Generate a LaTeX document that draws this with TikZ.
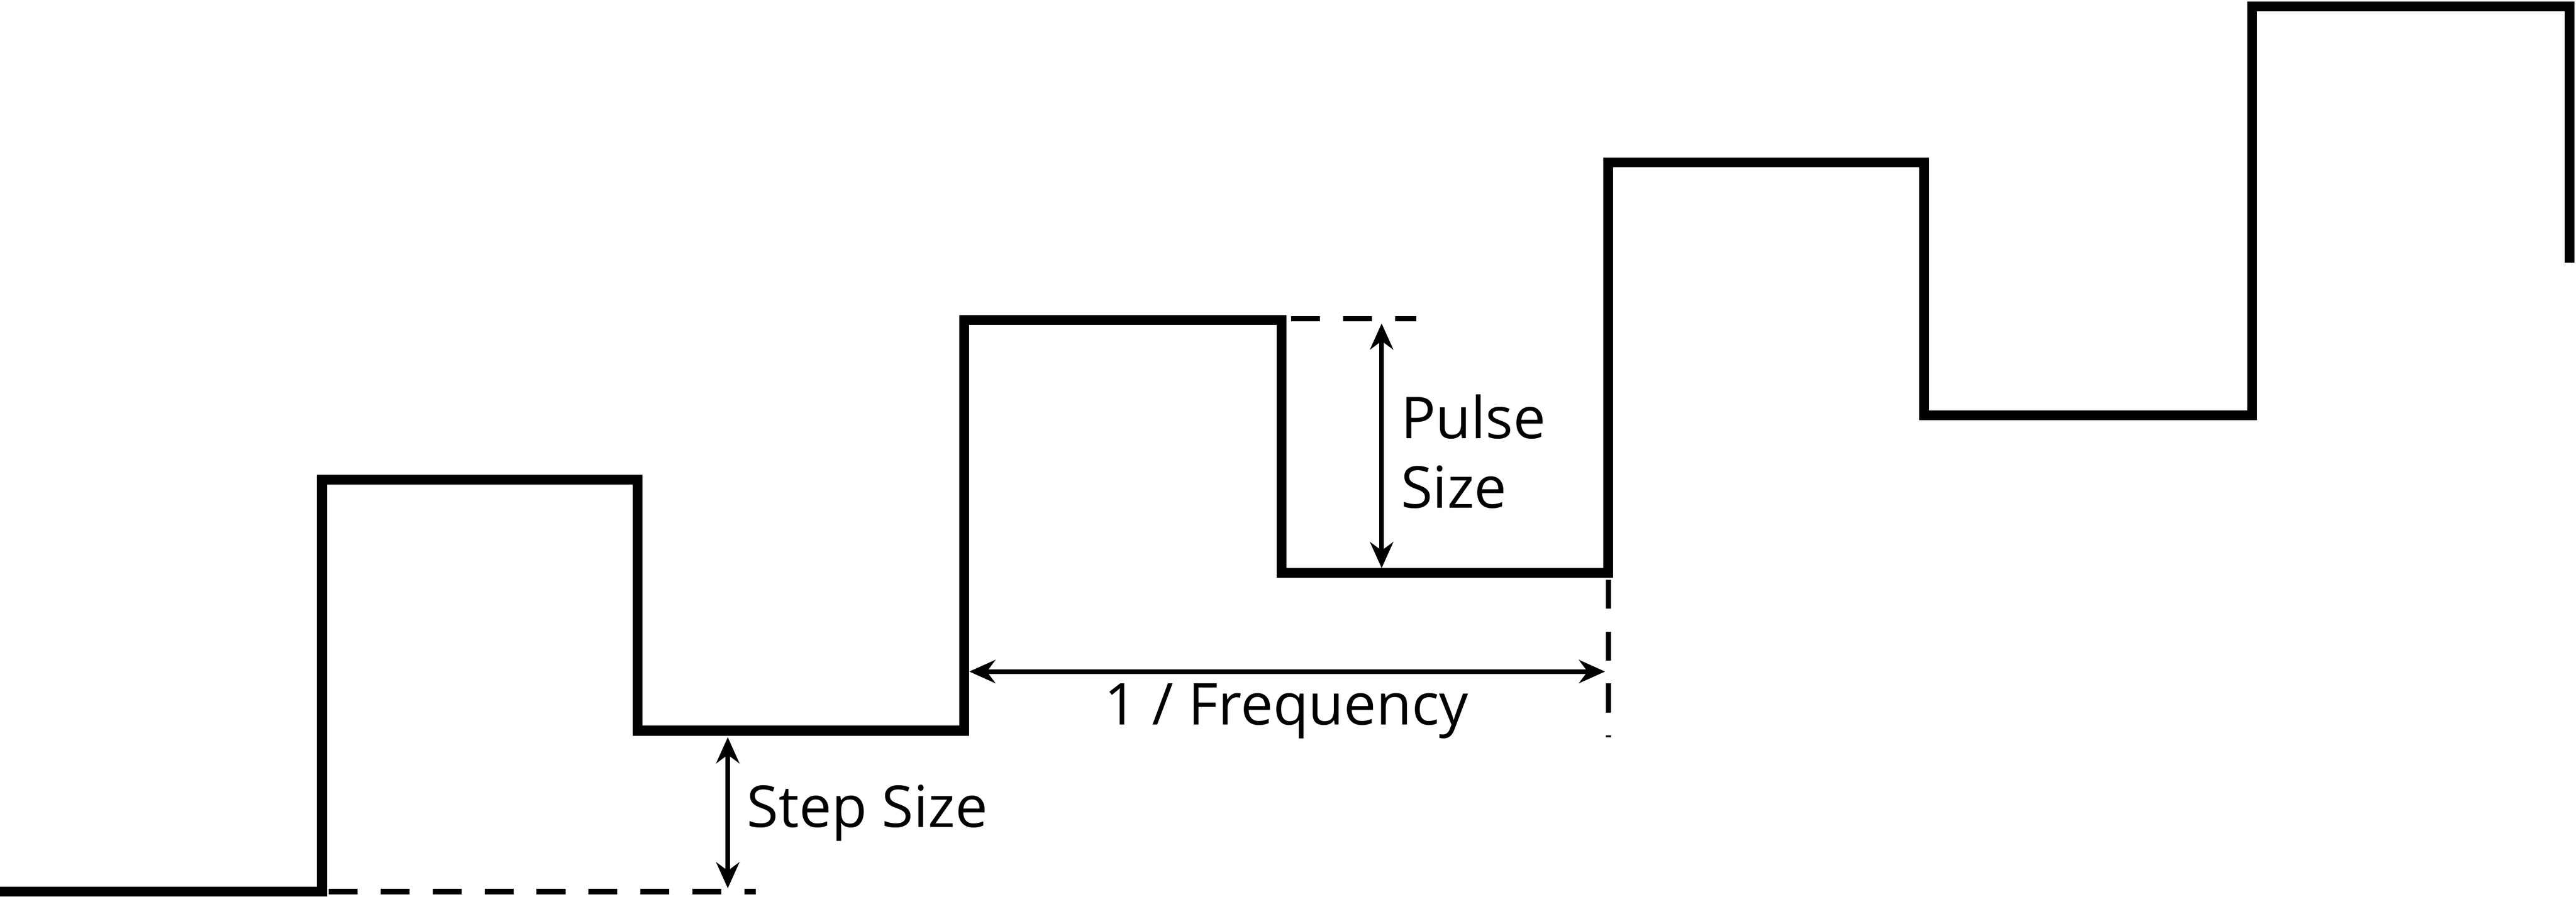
\documentclass[tikz,border=0pt]{standalone}
\usepackage{fontspec}
\setmainfont{Open Sans}
\usetikzlibrary{arrows.meta}
\begin{document}
\begin{tikzpicture}[x=0.01cm,y=-0.01cm,
  wave/.style={line width=1.7pt},
  guide/.style={line width=0.9pt,dash pattern=on 5pt off 4pt},
  dim/.style={line width=0.8pt,{Stealth[length=4.5pt,width=4pt]}-{Stealth[length=4.5pt,width=4pt]}},
  lbl/.style={font=\fontsize{10pt}{12pt}\selectfont,inner sep=0pt}]
\useasboundingbox (0,0) rectangle (1568,546);
\draw[wave] (0,543) -- (196,543) -- (196,292) -- (388,292) -- (388,445) -- (587,445) -- (587,195) -- (780,195) -- (780,349) -- (979,349) -- (979,99) -- (1171,99) -- (1171,253) -- (1371,253) -- (1371,4) -- (1564,4) -- (1564,160);
\draw[guide] (200,543) -- (460,543);
\draw[guide] (786,194) -- (862,194);
\draw[guide] (979,353) -- (979,449);
\coordinate (s1) at (443,449); \coordinate (s2) at (443,541);
\draw[dim] (s1) -- (s2);
\node[lbl,anchor=west] (step) at (454,495) {Step Size};
\coordinate (p1) at (841,197); \coordinate (p2) at (841,346);
\draw[dim] (p1) -- (p2);
\node[lbl,anchor=west,align=left] (pulse) at (852,275) {Pulse\\Size};
\coordinate (f1) at (590,409); \coordinate (f2) at (977,409);
\draw[dim] (f1) -- (f2);
\node[lbl] (freq) at (783,433) {1 / Frequency};
\end{tikzpicture}
\end{document}
